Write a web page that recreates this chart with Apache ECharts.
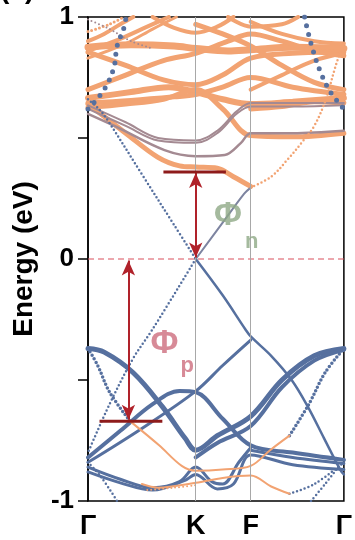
<!DOCTYPE html>
<html>
<head>
<meta charset="utf-8">
<script src="https://cdn.jsdelivr.net/npm/echarts@6/dist/echarts.min.js"></script>
<style>
  html, body { margin: 0; padding: 0; background: #fff; }
  #chart { width: 355px; height: 540px; }
</style>
</head>
<body>
<div id="chart"></div>
<script>
// k-path positions (Γ-K-F-Γ) and labels
const kTicks = [0, 1, 1.51, 2.375];
const kLabels = ['Γ', 'K', 'F', 'Γ'];
const yShown = [-1, 0, 1];
const fermi = [[0, 0], [2.375, 0]];

// conduction bands (orange fat bands), [k, E]
const cbFlatTop = [[0,0.875],[0.4,0.885],[0.8,0.88],[1,0.87],[1.3,0.86],[1.51,0.865],[1.9,0.875],[2.375,0.87]];
const cbDownK = [[0,0.855],[0.35,0.8],[0.7,0.74],[1,0.72],[1.25,0.76],[1.51,0.83],[1.9,0.85],[2.375,0.855]];
const cbUpK = [[0,0.70],[0.35,0.76],[0.7,0.82],[1,0.85],[1.3,0.90],[1.51,0.93],[1.8,0.9],[2.1,0.86],[2.375,0.84]];
const cbMid1 = [[0,0.665],[0.4,0.69],[0.75,0.71],[1,0.69],[1.25,0.66],[1.51,0.64],[1.9,0.65],[2.375,0.665]];
const cbMid2 = [[0,0.645],[0.4,0.655],[0.8,0.67],[1,0.68],[1.25,0.71],[1.51,0.75],[1.9,0.71],[2.375,0.68]];
const cbKF = [[0,0.625],[0.35,0.64],[0.7,0.66],[1,0.70],[1.25,0.62],[1.51,0.51],[1.9,0.505],[2.375,0.52]];
const cbLow = [[0,0.64],[0.35,0.52],[0.65,0.42],[0.85,0.385],[1,0.38],[1.2,0.375],[1.35,0.34],[1.51,0.30]];
const cbTopL1 = [[0,0.90],[0.15,0.93],[0.3,0.97],[0.42,1.0]];
const cbTopL2 = [[0,0.94],[0.2,0.97],[0.33,1.0]];
const cbTopL3 = [[0,0.86],[0.3,0.91],[0.55,0.96],[0.75,1.0]];
const cbTopL4 = [[0,0.83],[0.35,0.89],[0.6,0.95],[0.82,1.0]];
const cbTopL5 = [[0,0.99],[0.2,0.95],[0.4,0.90],[0.6,0.87]];
const cbTopK = [[0.6,1.0],[0.8,0.955],[1,0.935],[1.2,0.96],[1.35,1.0]];
const cbTopR1 = [[1,0.97],[1.25,0.93],[1.51,0.88],[1.8,0.8],[2.1,0.73],[2.375,0.70]];
const cbTopR2 = [[1.3,1.0],[1.51,0.96],[1.8,0.97],[1.95,1.0]];
const cbTopR3 = [[1.51,0.70],[1.8,0.76],[2.1,0.82],[2.375,0.85]];
const cbTopR4 = [[1.51,0.98],[1.8,0.93],[2.1,0.90],[2.375,0.89]];
const cbTopR5 = [[1.51,0.62],[1.8,0.63],[2.1,0.65],[2.375,0.645]];
// thin mixed bands near K
const cbThinA = [[0,0.62],[0.35,0.55],[0.65,0.49],[1,0.48],[1.2,0.52],[1.38,0.6],[1.51,0.63],[1.9,0.63],[2.375,0.635]];
const cbThinB = [[0,0.635],[0.35,0.565],[0.65,0.50],[1,0.49],[1.2,0.53],[1.38,0.61],[1.51,0.645],[1.9,0.645],[2.375,0.645]];
const cbThinC = [[0,0.60],[0.27,0.545],[0.71,0.45],[1,0.425],[1.27,0.43],[1.42,0.48],[1.51,0.52],[1.9,0.52],[2.375,0.53]];
// dispersive Cs-like bands
const diracUp = [[0,0.66],[0.1,0.62],[0.18,0.575],[0.5,0.35],[0.8,0.14],[1,0]];
const diracDn = [[1,0],[0.6,-0.29],[0.42,-0.41],[0.2,-0.6],[0,-0.8]];
const diracKF = [[1,0],[1.25,0.15],[1.45,0.27],[1.51,0.295]];
const diracFG = [[1.51,0.295],[1.7,0.34],[1.85,0.41],[2.0,0.49],[2.1,0.55],[2.2,0.65],[2.3,0.8],[2.375,0.9]];
const bigDotL = [[0,0.62],[0.15,0.70],[0.24,0.79],[0.27,0.88],[0.33,0.95],[0.35,0.99]];
const bigDotR = [[2.01,1.0],[2.07,0.89],[2.16,0.77],[2.25,0.69],[2.375,0.62]];

// valence bands (blue)
const vbTop = [[0,-0.37],[0.15,-0.385],[0.42,-0.47],[0.69,-0.61],[0.9,-0.74],[1,-0.79],[1.2,-0.73],[1.51,-0.65],[1.8,-0.50],[2.1,-0.40],[2.375,-0.37]];
const vbTop2 = [[1,-0.82],[1.2,-0.76],[1.51,-0.69],[1.8,-0.53],[2.1,-0.42],[2.375,-0.375]];
const vbArc = [[0,-0.82],[0.3,-0.71],[0.6,-0.6],[0.85,-0.545],[1,-0.55],[1.25,-0.66],[1.51,-0.77],[1.9,-0.80],[2.375,-0.83]];
const vbArc2 = [[1.51,-0.79],[1.9,-0.82],[2.375,-0.845]];
const vbRise = [[0,-0.84],[0.5,-0.70],[1,-0.546],[1.25,-0.44],[1.51,-0.335]];
const vbDirac = [[1,0],[1.25,-0.15],[1.46,-0.29],[1.51,-0.32],[1.7,-0.40],[1.89,-0.50],[2.04,-0.61],[2.19,-0.74],[2.34,-0.87],[2.375,-0.89]];
const vbClu1 = [[0,-0.86],[0.3,-0.91],[0.6,-0.945],[0.85,-0.92],[1,-0.86],[1.15,-0.92],[1.25,-0.93],[1.4,-0.84],[1.51,-0.78]];
const vbClu2 = [[0,-0.88],[0.3,-0.925],[0.6,-0.955],[0.9,-0.915],[1,-0.89],[1.2,-0.95],[1.35,-0.93],[1.51,-0.81],[1.9,-0.85],[2.375,-0.87]];
const vbXL = [[0,-0.84],[0.12,-0.9],[0.27,-1.0]];
const vbXR = [[2.07,-1.0],[2.2,-0.93],[2.375,-0.83]];
const vbSteepL = [[0,-0.37],[0.09,-0.44],[0.2,-0.55],[0.39,-0.67]];
const vbSteepMid = [[0.39,-0.67],[0.66,-0.77],[0.87,-0.855],[1,-0.875],[1.25,-0.87],[1.51,-0.855],[1.69,-0.79],[1.87,-0.73]];
const vbSteepR = [[1.87,-0.73],[2.05,-0.6],[2.2,-0.47],[2.375,-0.37]];
const vbLowMid = [[0.5,-0.93],[0.65,-0.945],[1,-0.925],[1.25,-0.905],[1.51,-0.895],[1.7,-0.94],[1.87,-0.97]];
const vbLowMid2 = [[0.55,-0.955],[0.8,-0.945],[1,-0.935]];
const vbLowR = [[1.87,-0.97],[2.1,-0.93],[2.375,-0.84]];

// work-function annotations
const barN = [[0.70,0.36],[1.28,0.36]];
const barP = [[0.107,-0.67],[0.69,-0.67]];
const arrowN = [[1,0.355],[1,0.006]];
const arrowP = [[0.375,-0.006],[0.375,-0.664]];

const ORANGE = '#f2a372';
const BLUE = '#56709f';
const MIX = '#a48a92';

function band(data, color, width, dash, z) {
  return {
    type: 'line', data: data, smooth: 0.35, showSymbol: false, silent: true,
    z: z || 2,
    lineStyle: { color: color, width: width, type: dash || 'solid', cap: 'round' }
  };
}
const dots = [0, 4];
const bigDots = [0, 9];

const series = [
  {
    type: 'line', data: [], silent: true,
    markLine: {
      silent: true, symbol: 'none', label: { show: false },
      lineStyle: { color: '#a8a8a8', width: 1, type: 'solid' },
      data: [{ xAxis: kTicks[1] }, { xAxis: kTicks[2] }]
    }
  },
  band(cbFlatTop, ORANGE, 7), band(cbDownK, ORANGE, 5), band(cbUpK, ORANGE, 5),
  band(cbMid1, ORANGE, 6), band(cbMid2, ORANGE, 5), band(cbKF, ORANGE, 5),
  band(cbLow, ORANGE, 5), band(cbTopL1, ORANGE, 4), band(cbTopL2, ORANGE, 3, dots),
  band(cbTopL3, ORANGE, 4), band(cbTopL4, ORANGE, 3), band(cbTopL5, MIX, 2, dots),
  band(cbTopK, ORANGE, 4),
  band(cbTopR1, ORANGE, 5), band(cbTopR2, ORANGE, 4), band(cbTopR3, ORANGE, 4),
  band(cbTopR4, ORANGE, 4), band(cbTopR5, ORANGE, 5),
  band(cbThinA, MIX, 2), band(cbThinB, MIX, 2), band(cbThinC, MIX, 2.5),
  band(diracUp, BLUE, 2.5, dots, 3), band(diracDn, BLUE, 2.5, dots, 3),
  band(diracKF, '#7d84a0', 2, 'solid', 3), band(diracFG, ORANGE, 2.5, dots, 3),
  band(bigDotL, BLUE, 5, bigDots, 3), band(bigDotR, BLUE, 5, bigDots, 3),
  band(vbTop, BLUE, 5), band(vbTop2, BLUE, 4), band(vbArc, BLUE, 4), band(vbArc2, BLUE, 3),
  band(vbRise, BLUE, 3), band(vbDirac, BLUE, 2.5), band(vbClu1, BLUE, 3), band(vbClu2, BLUE, 3),
  band(vbXL, BLUE, 2.5, dots), band(vbXR, BLUE, 2.5, dots),
  band(vbSteepL, BLUE, 3.5, dots), band(vbSteepMid, ORANGE, 2, 'solid', 3), band(vbSteepR, BLUE, 3.5, dots),
  band(vbLowMid, ORANGE, 2, 'solid', 3), band(vbLowMid2, ORANGE, 2, dots, 3), band(vbLowR, BLUE, 2.5, dots),
  { type: 'line', data: fermi, showSymbol: false, silent: true, z: 4,
    lineStyle: { color: '#d9515c', width: 1.2, type: [6, 4] } },
  { type: 'line', data: barN, showSymbol: false, silent: true, z: 6, lineStyle: { color: '#8e1b1b', width: 3 } },
  { type: 'line', data: barP, showSymbol: false, silent: true, z: 6, lineStyle: { color: '#8e1b1b', width: 3 } },
  {
    type: 'line', data: [], silent: true, z: 6,
    markLine: {
      silent: true, symbol: ['arrow', 'arrow'], symbolSize: [10, 15], label: { show: false },
      lineStyle: { color: '#b0222a', width: 2, type: 'solid' },
      data: [
        [{ coord: arrowN[0] }, { coord: arrowN[1] }],
        [{ coord: arrowP[0] }, { coord: arrowP[1] }]
      ]
    }
  },
  {
    type: 'scatter', symbolSize: 0, silent: true, z: 7,
    data: [
      { value: [1.3, 0.18], label: { formatter: 'Φ', fontSize: 34, color: '#8fa986' } },
      { value: [1.52, 0.07], label: { formatter: 'n', fontSize: 22, color: '#8fa986' } },
      { value: [0.71, -0.35], label: { formatter: 'Φ', fontSize: 34, color: '#cd6d7d' } },
      { value: [0.92, -0.44], label: { formatter: 'p', fontSize: 22, color: '#cd6d7d' } }
    ],
    label: { show: true, position: 'inside', fontWeight: 'bold', fontFamily: 'Liberation Sans' }
  }
];

const chart = echarts.init(document.getElementById('chart'));
chart.setOption({
  animation: false,
  grid: { left: 88, right: 1, top: 17, bottom: 38, show: true, borderColor: '#000', borderWidth: 1.5 },
  xAxis: {
    type: 'value', min: kTicks[0], max: kTicks[3],
    axisLine: { show: false }, splitLine: { show: false },
    axisTick: { show: false },
    axisLabel: {
      customValues: kTicks,
      formatter: function (v) { return kLabels[kTicks.indexOf(v)] || ''; },
      color: '#000', fontSize: 27, fontWeight: 'bold', fontFamily: 'Liberation Sans', margin: 12
    }
  },
  yAxis: {
    type: 'value', min: -1, max: 1, interval: 0.5,
    name: 'Energy (eV)', nameLocation: 'middle', nameGap: 50,
    nameTextStyle: { color: '#000', fontSize: 28, fontWeight: 'bold', fontFamily: 'Liberation Sans' },
    axisLine: { show: true, lineStyle: { color: '#000', width: 1.5 } },
    axisTick: { show: true, length: 10, lineStyle: { color: '#000', width: 1.5 } },
    splitLine: { show: false },
    axisLabel: {
      formatter: function (v) { return yShown.indexOf(v) >= 0 ? String(v) : ''; },
      color: '#000', fontSize: 26, fontWeight: 'bold', fontFamily: 'Liberation Sans', margin: 14
    }
  },
  graphic: [
    { type: 'text', x: 0, y: -10, style: { text: '(c)', font: 'bold 28px "Liberation Sans"', fill: '#000', verticalAlign: 'middle' } },
    { type: 'text', x: 143, y: -10, style: { text: 'CsMoS₂/Cs', font: 'bold 28px "Liberation Sans"', fill: '#000', verticalAlign: 'middle' } }
  ],
  series: series
});
</script>
</body>
</html>
